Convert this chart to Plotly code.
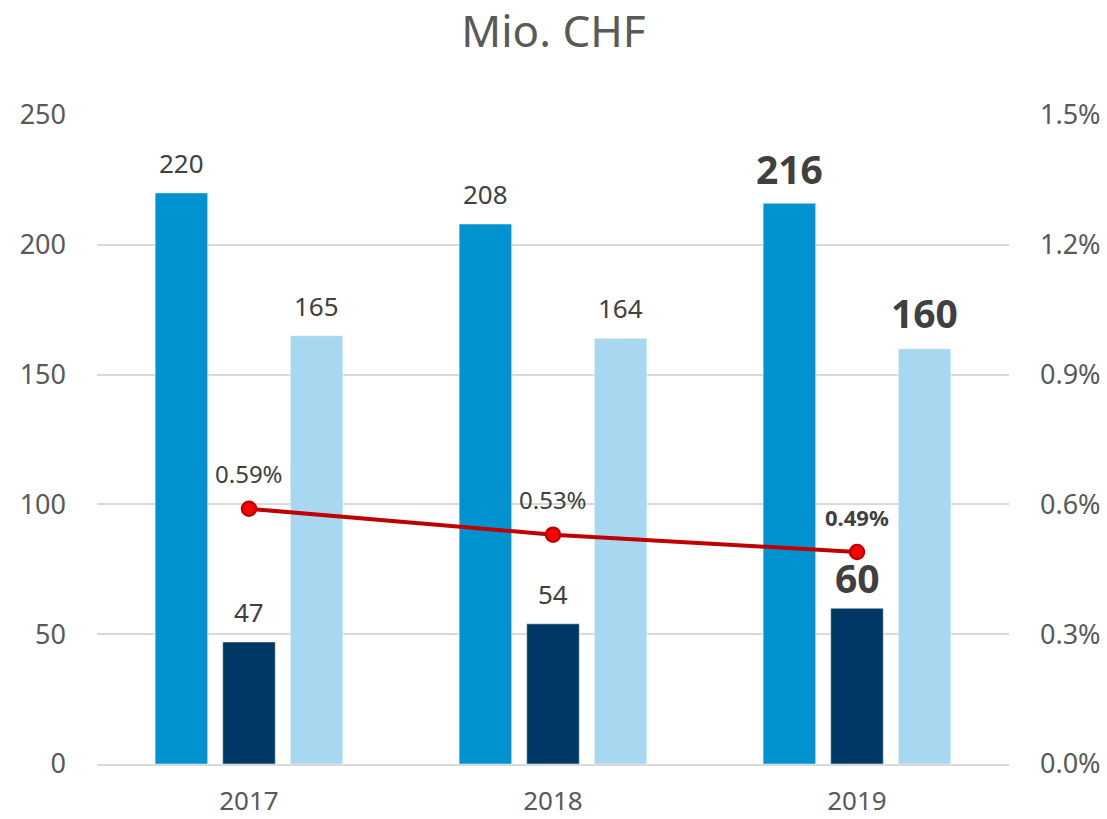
import plotly.graph_objects as go

years = ["2017", "2018", "2019"]
series_a = [220, 208, 216]
series_b = [47, 54, 60]
series_c = [165, 164, 160]
ratio_pct = [0.59, 0.53, 0.49]
ratio_labels = ["0.59%", "0.53%", "0.49%"]

colors = ["#0093D0", "#003865", "#A8D8EF"]
FONT = "Noto Sans"
LABEL_COL = "#404040"
TICK_COL = "#595959"

fig = go.Figure()
for vals, col in zip([series_a, series_b, series_c], colors):
    fig.add_trace(go.Bar(x=years, y=vals, marker=dict(color=col, line=dict(color="rgba(255,255,255,0.5)", width=1)),
                         showlegend=False, hoverinfo="skip"))

fig.add_trace(go.Scatter(x=years, y=ratio_pct, yaxis="y2", mode="lines+markers",
                         line=dict(color="#C00000", width=4),
                         marker=dict(size=14, color="#FF0000", line=dict(color="#C00000", width=2.5)),
                         showlegend=False, hoverinfo="skip"))

annotations = []
offsets = [-67.5, 0, 67.5]
bold_shift = [35, 31, 36]
for s_idx, vals in enumerate([series_a, series_b, series_c]):
    for i, v in enumerate(vals):
        bold = (i == 2)
        annotations.append(dict(
            x=i, y=v, xref="x", yref="y", text=f"<b>{v}</b>" if bold else str(v),
            showarrow=False, xshift=offsets[s_idx], yshift=bold_shift[s_idx] if bold else 30,
            yanchor="middle", xanchor="center",
            font=dict(family=FONT, size=39 if bold else 26, color=LABEL_COL)))
for i, (v, lab) in enumerate(zip(ratio_pct, ratio_labels)):
    bold = (i == 2)
    annotations.append(dict(
        x=i, y=v, xref="x", yref="y2", text=f"<b>{lab}</b>" if bold else lab,
        showarrow=False, yshift=35, yanchor="middle", xanchor="center",
        font=dict(family=FONT, size=22 if bold else 24, color=LABEL_COL)))

fig.update_layout(
    width=1107, height=819,
    margin=dict(l=97, r=98, t=115, b=55),
    paper_bgcolor="white", plot_bgcolor="white",
    barmode="group", bargap=0.333, bargroupgap=0.222,
    title=dict(text="Mio. CHF", x=0.5, xanchor="center", y=0.961, yanchor="middle",
               font=dict(family=FONT, size=44, color=TICK_COL)),
    font=dict(family=FONT, color=TICK_COL),
    xaxis=dict(type="category", range=[-0.5, 2.5], autorange=False, automargin=False,
               showgrid=False, showline=True, linecolor="#D9D9D9", linewidth=2,
               ticks="", tickfont=dict(family=FONT, size=26, color=TICK_COL), ticklabelstandoff=13),
    yaxis=dict(range=[0, 250], autorange=False, automargin=False, dtick=50, showgrid=True,
               gridcolor="#D9D9D9", gridwidth=1.5,
               zeroline=False, showline=False, ticks="",
               tickfont=dict(family=FONT, size=27, color=TICK_COL), ticklabelstandoff=30),
    yaxis2=dict(range=[0, 1.5], autorange=False, automargin=False, dtick=0.3, tickformat=".1f",
                ticksuffix="%", overlaying="y", side="right",
                showgrid=False, zeroline=False, showline=False, ticks="",
                tickfont=dict(family=FONT, size=27, color=TICK_COL), ticklabelstandoff=30),
    annotations=annotations,
)

fig.write_html("out.html", config={"displayModeBar": False},
               post_script="document.body.style.margin='0';")
